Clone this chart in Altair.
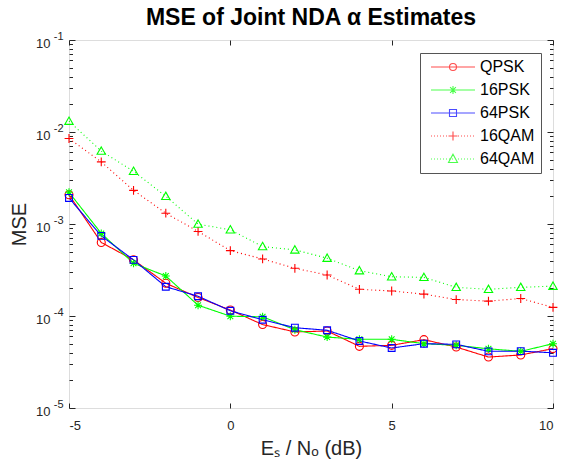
import altair as alt
import pandas as pd

# ---------------- data ----------------
snr_db = [-5, -4, -3, -2, -1, 0, 1, 2, 3, 4, 5, 6, 7, 8, 9, 10]
series = ["QPSK", "16PSK", "64PSK", "16QAM", "64QAM"]

mse_qpsk = [2.08e-3, 6.3e-4, 4.07e-4, 2.27e-4, 1.59e-4, 1.16e-4, 8.07e-5, 6.71e-5,
            6.87e-5, 4.68e-5, 4.8e-5, 5.53e-5, 4.6e-5, 3.58e-5, 3.77e-5, 4.42e-5]
mse_16psk = [2.21e-3, 7.9e-4, 3.74e-4, 2.72e-4, 1.31e-4, 9.95e-5, 9.8e-5, 7.1e-5,
             5.9e-5, 5.58e-5, 5.58e-5, 5.0e-5, 4.8e-5, 4.4e-5, 4.13e-5, 5.0e-5]
mse_64psk = [1.92e-3, 7.43e-4, 4.07e-4, 2.08e-4, 1.64e-4, 1.14e-4, 9.1e-5, 7.46e-5,
             7.0e-5, 5.35e-5, 4.49e-5, 5.0e-5, 4.92e-5, 4.13e-5, 4.15e-5, 3.98e-5]
mse_16qam = [8.5e-3, 4.73e-3, 2.32e-3, 1.31e-3, 8.3e-4, 5.14e-4, 4.17e-4, 3.3e-4,
             2.79e-4, 1.95e-4, 1.87e-4, 1.73e-4, 1.51e-4, 1.45e-4, 1.55e-4, 1.24e-4]
mse_64qam = [1.31e-2, 6.2e-3, 3.74e-3, 2.0e-3, 9.97e-4, 8.65e-4, 5.69e-4, 5.23e-4,
             4.25e-4, 3.11e-4, 2.67e-4, 2.63e-4, 2.05e-4, 1.95e-4, 2.05e-4, 2.11e-4]

x_ticks = [-5, 0, 5, 10]
y_ticks = [1e-5, 1e-4, 1e-3, 1e-2, 1e-1]
y_minor = [m * 10.0 ** e for e in range(-5, -1) for m in range(2, 10)]

colors = ["#ff0000", "#00ff00", "#0000ff", "#ff0000", "#00ff00"]

rows = []
for name, vals in zip(series, [mse_qpsk, mse_16psk, mse_64psk, mse_16qam, mse_64qam]):
    for s, v in zip(snr_db, vals):
        rows.append({"snr": s, "mse": v, "scheme": name, "legend_key": name})
df = pd.DataFrame(rows)

# ---------------- styling ----------------
FONT = "Liberation Sans"
INK = "#262626"
W, H = 484, 368

shape_paths = [
    "circle",
    "M-1,0L1,0M0,-1L0,1M-0.72,-0.72L0.72,0.72M-0.72,0.72L0.72,-0.72",
    "M-0.85,-0.85L0.85,-0.85L0.85,0.85L-0.85,0.85Z",
    "M-1.1,0L1.1,0M0,-1.1L0,1.1",
    "M0,-1.05L1.05,0.8L-1.05,0.8Z",
]


def legend_path(kind, dotted):
    x0, x1, cx = -0.6, 8.2, 3.8
    if dotted:
        parts = []
        x = x0
        while x < x1:
            parts.append(f"M{x:.2f},0L{min(x + 0.2, x1):.2f},0")
            x += 0.6
        line = "".join(parts)
    else:
        line = f"M{x0},0L{x1},0"
    if kind == "circle":
        r = 0.7
        mk = f"M{cx + r},0A{r},{r} 0 1 1 {cx - r},0A{r},{r} 0 1 1 {cx + r},0Z"
    elif kind == "star":
        a, d = 0.8, 0.58
        mk = (f"M{cx - a},0L{cx + a},0M{cx},{-a}L{cx},{a}"
              f"M{cx - d},{-d}L{cx + d},{d}M{cx - d},{d}L{cx + d},{-d}")
    elif kind == "square":
        s = 0.7
        mk = f"M{cx - s},{-s}L{cx + s},{-s}L{cx + s},{s}L{cx - s},{s}Z"
    elif kind == "plus":
        a = 0.9
        mk = f"M{cx - a},0L{cx + a},0M{cx},{-a}L{cx},{a}"
    else:
        mk = f"M{cx},-0.95L{cx + 0.9},0.7L{cx - 0.9},0.7Z"
    return line + mk


leg_kinds = [("circle", False), ("star", False), ("square", False), ("plus", True), ("tri", True)]
leg_paths = [legend_path(k, d) for k, d in leg_kinds]

legend = alt.Legend(
    title=None, orient="none", legendX=351, legendY=13, direction="vertical",
    labelFont=FONT, labelFontSize=16, labelColor="black", labelOffset=38,
    symbolSize=100, symbolStrokeWidth=1.1, rowPadding=7, padding=6,
    strokeColor="#555555", fillColor="white",
)

x_scale = alt.Scale(domain=[-5, 10], nice=False, zero=False)
y_scale = alt.Scale(type="log", domain=[1e-5, 1e-1], nice=False)
color_scale = alt.Scale(domain=series, range=colors)

x_axis_main = alt.Axis(orient="bottom", values=x_ticks, ticks=False, tickSize=0, domain=False,
                       grid=False, labelFontSize=13, labelPadding=11, labelFont=FONT,
                       labelColor=INK, labelExpr="'' + datum.value",
                       title="Eₛ / Nₒ (dB)", titleFont=FONT, titleFontSize=20,
                       titleFontWeight="normal", titleColor=INK, titlePadding=6)
y_axis_main = alt.Axis(orient="left", values=y_ticks, ticks=False, tickSize=0, domain=False,
                       grid=False, labelFontSize=13, labelPadding=19, labelFont=FONT,
                       labelColor=INK, labelExpr="'10'", labelOffset=3,
                       title="MSE", titleFont=FONT, titleFontSize=20, titleFontWeight="normal",
                       titleColor=INK, titlePadding=6)

X = alt.X("snr:Q", scale=x_scale, axis=x_axis_main)
Y = alt.Y("mse:Q", scale=y_scale, axis=y_axis_main)

lines = alt.Chart(df).mark_line(strokeWidth=1.1).encode(
    x=X, y=Y,
    color=alt.Color("scheme:N", scale=color_scale, legend=None),
    strokeDash=alt.StrokeDash("scheme:N", scale=alt.Scale(
        domain=series, range=[[1, 0], [1, 0], [1, 0], [1, 3], [1, 3]]), legend=None),
)
points = alt.Chart(df).mark_point(filled=False, size=64, strokeWidth=1.1, opacity=1).encode(
    x=X, y=Y,
    color=alt.Color("scheme:N", scale=color_scale, legend=None),
    shape=alt.Shape("scheme:N", scale=alt.Scale(domain=series, range=shape_paths), legend=None),
)
# legend-only layer (draws no marks; its shape scale holds line+marker glyphs)
legend_layer = alt.Chart(df).mark_point(filled=False, strokeWidth=1.1).encode(
    color=alt.Color("legend_key:N", scale=color_scale, legend=legend),
    shape=alt.Shape("legend_key:N", scale=alt.Scale(domain=series, range=leg_paths), legend=legend),
).transform_filter("false")

main = alt.layer(lines, points, legend_layer).resolve_scale(shape="independent", color="independent")


def tick_layer(y_axis, x_axis):
    return alt.Chart(df).mark_point(opacity=0).encode(
        x=alt.X("snr:Q", scale=x_scale, axis=x_axis),
        y=alt.Y("mse:Q", scale=y_scale, axis=y_axis),
    )


def tick_axis(orient, offset, values, size):
    return alt.Axis(orient=orient, offset=offset, values=values, tickSize=size, ticks=True,
                    labels=False, domain=False, grid=False, title=None,
                    tickColor=INK, tickWidth=1)


exp_axis = alt.Axis(orient="left", values=y_ticks, ticks=False, tickSize=0, domain=False,
                    grid=False, labels=True, labelFont=FONT, labelFontSize=11,
                    labelColor=INK, labelPadding=6, labelOffset=-4, title=None,
                    labelExpr="'-' + (-round(log(datum.value)/LN10))")

t1 = tick_layer(tick_axis("right", -W, y_ticks, 6), tick_axis("top", -H, x_ticks, 5))
t2 = tick_layer(tick_axis("left", -W, y_ticks, 6), tick_axis("bottom", -H, x_ticks, 5))
t3 = tick_layer(tick_axis("right", -W, y_minor, 3.5), None)
t4 = tick_layer(tick_axis("left", -W, y_minor, 3.5), None)
t5 = tick_layer(exp_axis, None)

chart = alt.layer(main, t1, t2, t3, t4, t5).resolve_scale(
    x="independent", y="independent"
).properties(
    width=W, height=H,
    padding={"left": 69, "top": 40, "right": 9, "bottom": 62},
    autosize=alt.AutoSizeParams(type="none"),
    title=alt.TitleParams("MSE of Joint NDA α Estimates", font=FONT, fontSize=23,
                          fontWeight="bold", color="black", anchor="middle", offset=0),
).configure_view(stroke=INK, strokeWidth=1).configure(background="white")

chart.save("out.html", embed_options={"renderer": "svg", "actions": False})
